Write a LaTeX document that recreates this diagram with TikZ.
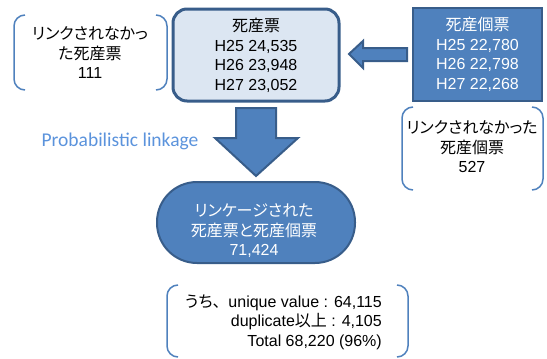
\documentclass[tikz,border=0pt]{standalone}
\usepackage{fontspec}
\setmainfont{Liberation Sans}
\newfontfamily\jp[RawFeature=+palt]{Noto Sans CJK JP}
\newfontfamily\jpfull{Noto Sans CJK JP}
\newfontfamily\carlitofont{Carlito}
\definecolor{edge}{HTML}{385D8A}
\definecolor{mid}{HTML}{4F81BD}
\definecolor{pale}{HTML}{DCE6F2}
\definecolor{cap}{HTML}{5B93DC}
\tikzset{
  txt/.style={align=center, inner sep=0pt, font=\fontsize{16}{19.5}\selectfont},
  palebox/.style={draw=edge, line width=3pt, fill=pale, rounded corners=14pt},
  darkbox/.style={draw=edge, line width=2pt, fill=mid},
  blockarrow/.style={draw=edge, line width=2pt, fill=mid, line join=miter},
  brk/.style={draw=mid, line width=1.5pt},
}
% double-bracket outline: #1 left x, #2 top y, #3 right x, #4 bottom y (y grows downward)
\newcommand{\bracketpair}[4]{%
  \draw[brk] (#1+11,#2) arc[start angle=270,end angle=180,radius=11] -- (#1,#4-11)
    arc[start angle=180,end angle=90,radius=11];
  \draw[brk] (#3-11,#2) arc[start angle=270,end angle=360,radius=11] -- (#3,#4-11)
    arc[start angle=0,end angle=90,radius=11];
}
\begin{document}
\begin{tikzpicture}[x=1pt,y=-1pt]
\useasboundingbox (0,0) rectangle (547,359);

% death certificates
\node[palebox, minimum width=166pt, minimum height=92pt] (dc) at (256,55) {};
\node[txt] (dct) at (256,55.5) {{\jp 死産票}\\H25 24,535\\H26 23,948\\H27 23,052};

% individual stillbirth records
\node[darkbox, minimum width=129pt, minimum height=93pt] (ir) at (477.5,54) {};
\node[txt, text=white] (irt) at (477.5,54.5) {{\jp 死産個票}\\H25 22,780\\H26 22,798\\H27 22,268};

% unlinked counts
\bracketpair{14}{15}{167}{90}
\node[txt] (ul) at (90,53) {{\jp リンクされなかっ}\\{\jp た死産票}\\111};
\bracketpair{402}{107}{543}{190}
\node[txt] (ur) at (472,147) {{\jp リンクされなかった}\\{\jp 死産個票}\\527};

% arrow from individual records into certificates
\draw[blockarrow] (349,54) -- (363,41) -- (363,48) -- (407,48) -- (407,61) -- (363,61) -- (363,68) -- cycle;

% linkage arrow
\draw[blockarrow] (236,108) -- (276,108) -- (276,138) -- (298,138) -- (256,176) -- (215,138) -- (236,138) -- cycle;
\node[font=\carlitofont\fontsize{19.5}{22}\selectfont, text=cap, inner sep=0pt] (pl) at (120,141) {Probabilistic linkage};

% linked result
\node[darkbox, rounded corners=40pt, minimum width=198pt, minimum height=81pt] (lk) at (256,222.5) {};
\node[txt, text=white] (lkt) at (254,231) {{\jp リンケージされた}\\{\jp 死産票と死産個票}\\71,424};

% breakdown
\bracketpair{167}{285}{408}{357}
\node[txt, align=right, anchor=east] (bd) at (382,322) {{\jp うち}{\jpfull 、}unique value : 64,115\\duplicate{\jp 以上} : 4,105\\Total 68,220 (96\%)};
\end{tikzpicture}
\end{document}
